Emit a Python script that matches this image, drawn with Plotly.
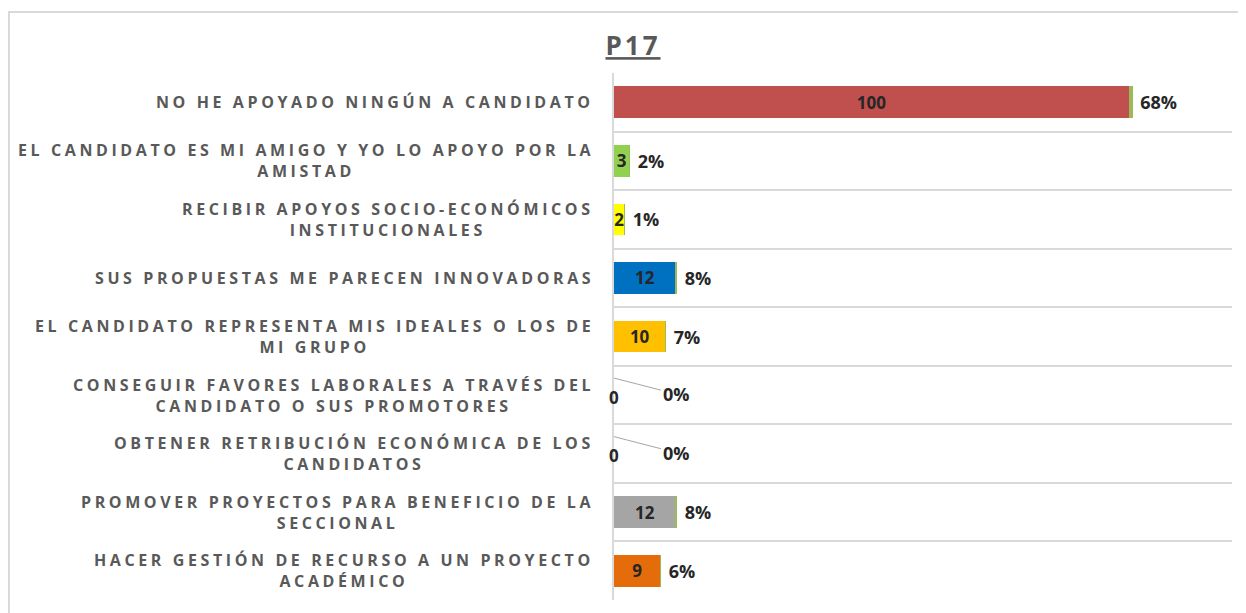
"""P17 - barras horizontales con conteo y porcentaje"""

import plotly.graph_objects as go

# Datos
categorias = [
    "NO HE APOYADO NINGÚN A CANDIDATO",
    "EL CANDIDATO ES MI AMIGO Y YO LO APOYO POR LA<br>AMISTAD",
    "RECIBIR APOYOS SOCIO-ECONÓMICOS<br>INSTITUCIONALES",
    "SUS PROPUESTAS ME PARECEN INNOVADORAS",
    "EL CANDIDATO REPRESENTA MIS IDEALES O LOS DE<br>MI GRUPO",
    "CONSEGUIR FAVORES LABORALES A TRAVÉS DEL<br>CANDIDATO O SUS PROMOTORES",
    "OBTENER RETRIBUCIÓN ECONÓMICA DE LOS<br>CANDIDATOS",
    "PROMOVER PROYECTOS PARA BENEFICIO DE LA<br>SECCIONAL",
    "HACER GESTIÓN DE RECURSO A UN PROYECTO<br>ACADÉMICO",
]
conteos = [100, 3, 2, 12, 10, 0, 0, 12, 9]
porcentajes = [68, 2, 1, 8, 7, 0, 0, 8, 6]
colores = ["#C0504D", "#92D050", "#FFFF00", "#0070C0", "#FFC000",
           "#A5A5A5", "#A5A5A5", "#A5A5A5", "#E46C0A"]

GRIS = "#595959"
OSCURO = "#262626"
FUENTE = "Open Sans"

# el navegador deja 8px de margen en el body: se compensa aquí
W, H = 1246, 613
L, R, T, B = 606, 1224, 65, 592
ancho, alto = R - L, B - T

pos = list(range(len(categorias)))

fig = go.Figure()

# conteos (texto dentro de la barra)
fig.add_trace(go.Bar(
    y=pos, x=conteos, orientation="h",
    marker=dict(color=colores, line=dict(width=0)),
    text=[str(c) if c > 0 else "" for c in conteos],
    textposition="inside", insidetextanchor="middle",
    constraintext="none",
    textfont=dict(family=FUENTE, size=17, color=OSCURO, weight="bold"),
    width=0.54, hoverinfo="skip",
))

# porcentajes (serie apilada muy fina + etiqueta fuera)
fig.add_trace(go.Bar(
    y=pos, x=[p / 100 for p in porcentajes], orientation="h",
    marker=dict(color="#9BBB59", line=dict(width=0)),
    text=[" %d%%" % p if p > 0 else "" for p in porcentajes],
    textposition="outside", constraintext="none", cliponaxis=False,
    textfont=dict(family=FUENTE, size=18, color=OSCURO, weight="bold"),
    width=0.54, hoverinfo="skip",
))

anotaciones = []
for i, cat in enumerate(categorias):
    anotaciones.append(dict(
        xref="paper", yref="y", x=-18 / ancho, y=i,
        text='<span style="letter-spacing:3.6px">%s</span>' % cat,
        showarrow=False, xanchor="right", yanchor="middle", align="center",
        font=dict(family=FUENTE, size=16, color=GRIS, weight="bold"),
    ))
    if conteos[i] == 0:
        # etiqueta del cero en la base
        anotaciones.append(dict(
            x=0, y=i, xref="x", yref="y", text="0", showarrow=False,
            yshift=-2, font=dict(family=FUENTE, size=17, color=OSCURO, weight="bold"),
        ))
        # porcentaje con línea guía
        anotaciones.append(dict(
            x=0, y=i - 0.29, xref="x", yref="y", text="%d%%" % porcentajes[i],
            showarrow=True, arrowhead=0, arrowwidth=1, arrowcolor="#A6A6A6",
            ax=62, ay=16, xanchor="center", standoff=0,
            font=dict(family=FUENTE, size=18, color=OSCURO, weight="bold"),
        ))

fig.update_layout(
    width=W, height=H,
    margin=dict(l=L, r=W - R, t=T, b=H - B),
    paper_bgcolor="white", plot_bgcolor="white",
    barmode="stack", showlegend=False,
    title=dict(
        text='<span style="letter-spacing:3px">P17</span>',
        xref="container", x=625 / W, xanchor="center",
        yref="container", y=1 - 38 / H, yanchor="middle",
        font=dict(family=FUENTE, size=26, color=GRIS, weight="bold",
                  lineposition="under"),
    ),
    xaxis=dict(range=[0, 120], showgrid=False, zeroline=False,
               showticklabels=False, fixedrange=True),
    yaxis=dict(range=[8.5, -0.5], tickmode="array",
               tickvals=[k - 0.5 for k in range(len(categorias) + 1)],
               showticklabels=False, showgrid=True, gridcolor="#D9D9D9",
               gridwidth=2, zeroline=False, showline=True,
               linecolor="#D9D9D9", linewidth=2, ticks=""),
    annotations=anotaciones,
    shapes=[dict(type="rect", xref="paper", yref="paper",
                 x0=(1 - L) / ancho, x1=(W + 20 - L) / ancho,
                 y0=-0.5, y1=1 + (T - 4) / alto,
                 line=dict(color="#D9D9D9", width=2), layer="below")],
)

fig.write_html("out.html")
